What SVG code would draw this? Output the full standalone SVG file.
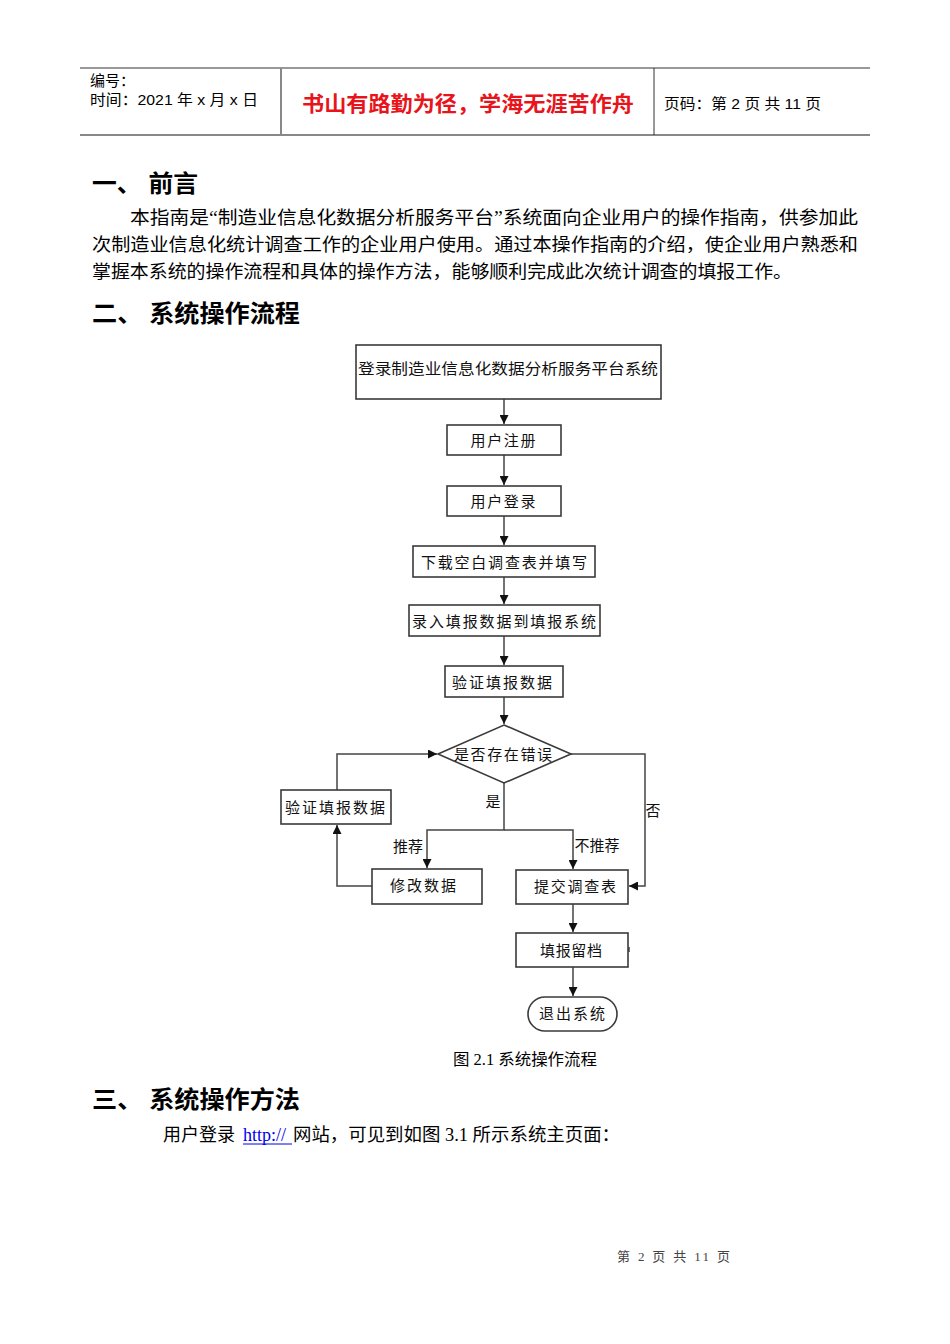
<svg xmlns="http://www.w3.org/2000/svg" width="950" height="1344" viewBox="0 0 950 1344">
<style>
.hd{font-family:"Liberation Sans","Noto Sans CJK SC",sans-serif;font-size:15px;fill:#000}
.red{font-family:"Liberation Sans","Noto Sans CJK SC",sans-serif;font-size:21px;font-weight:bold;fill:#e8141b}
.h1{font-family:"Liberation Sans","Noto Sans CJK SC",sans-serif;font-size:24px;font-weight:bold;fill:#000}
.body{font-family:"Liberation Serif","Noto Sans CJK SC",serif;font-size:18px;fill:#000}
.fc{font-family:"Noto Sans CJK SC",sans-serif;font-size:15px;fill:#111}
.box{fill:#fff;stroke:#3a3a3a;stroke-width:1.6}
.ln{fill:none;stroke:#444;stroke-width:1.5}
.foot{font-family:"Liberation Serif","Noto Sans CJK SC",serif;font-size:13px;fill:#444}
</style>
<defs>
<marker id="ah" viewBox="0 0 10 10" refX="10" refY="5" markerWidth="9" markerHeight="9" markerUnits="userSpaceOnUse" orient="auto">
<path d="M0,0 L10,5 L0,10 z" fill="#111"/>
</marker>
</defs>
<rect width="950" height="1344" fill="#fff"/>
<g id="header">
<line x1="80" y1="68" x2="870" y2="68" stroke="#333" stroke-width="1"/>
<line x1="80" y1="135" x2="870" y2="135" stroke="#888" stroke-width="2"/>
<line x1="281" y1="68" x2="281" y2="135" stroke="#888" stroke-width="2"/>
<line x1="654" y1="68" x2="654" y2="135" stroke="#333" stroke-width="1"/>
<text class="hd" x="90" y="86">编号：</text>
<text class="hd" x="90" y="105" textLength="168" lengthAdjust="spacingAndGlyphs">时间：2021 年 x 月 x 日</text>
<text class="red" x="302" y="111" textLength="332" lengthAdjust="spacingAndGlyphs">书山有路勤为径，学海无涯苦作舟</text>
<text class="hd" x="664" y="109" textLength="157" lengthAdjust="spacingAndGlyphs">页码：第 2 页  共 11 页</text>
</g>
<g id="section1">
<text class="h1" x="92" y="192" textLength="106" lengthAdjust="spacingAndGlyphs">一、 前言</text>
<text class="body" x="130" y="224" textLength="728" lengthAdjust="spacingAndGlyphs">本指南是“制造业信息化数据分析服务平台”系统面向企业用户的操作指南，供参加此</text>
<text class="body" x="92" y="251" textLength="766" lengthAdjust="spacingAndGlyphs">次制造业信息化统计调查工作的企业用户使用。通过本操作指南的介绍，使企业用户熟悉和</text>
<text class="body" x="92" y="278" textLength="700" lengthAdjust="spacingAndGlyphs">掌握本系统的操作流程和具体的操作方法，能够顺利完成此次统计调查的填报工作。</text>
</g>
<g id="section2">
<text class="h1" x="92" y="322" textLength="208" lengthAdjust="spacingAndGlyphs">二、 系统操作流程</text>
</g>
<g id="connectors">
<line class="ln" x1="504" y1="399" x2="504" y2="424" marker-end="url(#ah)"/>
<line class="ln" x1="504" y1="455" x2="504" y2="485" marker-end="url(#ah)"/>
<line class="ln" x1="504" y1="516" x2="504" y2="545" marker-end="url(#ah)"/>
<line class="ln" x1="504" y1="577" x2="504" y2="604" marker-end="url(#ah)"/>
<line class="ln" x1="504" y1="636" x2="504" y2="665" marker-end="url(#ah)"/>
<line class="ln" x1="504" y1="697" x2="504" y2="724" marker-end="url(#ah)"/>
<polyline class="ln" points="337,790 337,754 437,754" marker-end="url(#ah)"/>
<polyline class="ln" points="504,783 504,830 427,830 427,868" marker-end="url(#ah)"/>
<polyline class="ln" points="504,830 573,830 573,869" marker-end="url(#ah)"/>
<polyline class="ln" points="372,886 337,886 337,825" marker-end="url(#ah)"/>
<polyline class="ln" points="571,754 645,754 645,886 629,886" marker-end="url(#ah)"/>
<line class="ln" x1="573" y1="904" x2="573" y2="932" marker-end="url(#ah)"/>
<line class="ln" x1="573" y1="967" x2="573" y2="996" marker-end="url(#ah)"/>
<line class="ln" x1="629" y1="947" x2="629" y2="952"/>
<text class="fc" x="493" y="807" text-anchor="middle">是</text>
<text class="fc" x="408" y="852" text-anchor="middle">推荐</text>
<text class="fc" x="597" y="851" text-anchor="middle">不推荐</text>
<text class="fc" x="653" y="816" text-anchor="middle">否</text>
</g>
<g id="n1"><rect class="box" x="356" y="345" width="305" height="54"/><text class="fc" x="508" y="374" text-anchor="middle" textLength="300" lengthAdjust="spacingAndGlyphs">登录制造业信息化数据分析服务平台系统</text></g>
<g id="n2"><rect class="box" x="447" y="425" width="114" height="30"/><text class="fc" x="503" y="446" text-anchor="middle" textLength="65" lengthAdjust="spacing">用户注册</text></g>
<g id="n3"><rect class="box" x="447" y="486" width="114" height="30"/><text class="fc" x="503" y="507" text-anchor="middle" textLength="65" lengthAdjust="spacing">用户登录</text></g>
<g id="n4"><rect class="box" x="413" y="546" width="182" height="31"/><text class="fc" x="504" y="568" text-anchor="middle" textLength="166" lengthAdjust="spacing">下载空白调查表并填写</text></g>
<g id="n5"><rect class="box" x="409" y="605" width="191" height="31"/><text class="fc" x="504" y="627" text-anchor="middle" textLength="184" lengthAdjust="spacing">录入填报数据到填报系统</text></g>
<g id="n6"><rect class="box" x="445" y="666" width="118" height="31"/><text class="fc" x="502" y="688" text-anchor="middle" textLength="100" lengthAdjust="spacing">验证填报数据</text></g>
<g id="n7"><polygon class="box" points="504,725 571,754 504,783 438,754"/><text class="fc" x="503" y="760" text-anchor="middle" textLength="98" lengthAdjust="spacing">是否存在错误</text></g>
<g id="n8"><rect class="box" x="281" y="790" width="110" height="34"/><text class="fc" x="335" y="813" text-anchor="middle" textLength="100" lengthAdjust="spacing">验证填报数据</text></g>
<g id="n9"><rect class="box" x="372" y="869" width="110" height="35"/><text class="fc" x="423" y="891" text-anchor="middle" textLength="66" lengthAdjust="spacing">修改数据</text></g>
<g id="n10"><rect class="box" x="516" y="870" width="112" height="34"/><text class="fc" x="575" y="892" text-anchor="middle" textLength="82" lengthAdjust="spacing">提交调查表</text></g>
<g id="n11"><rect class="box" x="516" y="933" width="112" height="34"/><text class="fc" x="571" y="956" text-anchor="middle" textLength="62" lengthAdjust="spacing">填报留档</text></g>
<g id="n12"><rect class="box" x="528" y="997" width="89" height="34" rx="17" ry="17"/><text class="fc" x="572" y="1019" text-anchor="middle" textLength="66" lengthAdjust="spacing">退出系统</text></g>
<g id="caption">
<text class="body" x="453" y="1065" textLength="144" lengthAdjust="spacingAndGlyphs" style="font-size:16px">图 2.1 系统操作流程</text>
</g>
<g id="section3">
<text class="h1" x="92" y="1108" textLength="208" lengthAdjust="spacingAndGlyphs">三、 系统操作方法</text>
<text class="body" x="163" y="1141">用户登录 </text>
<text class="body" x="243" y="1141" style="fill:#0000ee">http:// </text>
<line x1="243" y1="1144" x2="292" y2="1144" stroke="#0000ee" stroke-width="1"/>
<text class="body" x="293" y="1141" textLength="327" lengthAdjust="spacingAndGlyphs">网站，可见到如图 3.1 所示系统主页面：</text>
</g>
<g id="footer">
<text class="foot" x="617" y="1261" textLength="113" lengthAdjust="spacing">第 2 页 共 11 页</text>
</g>
</svg>
